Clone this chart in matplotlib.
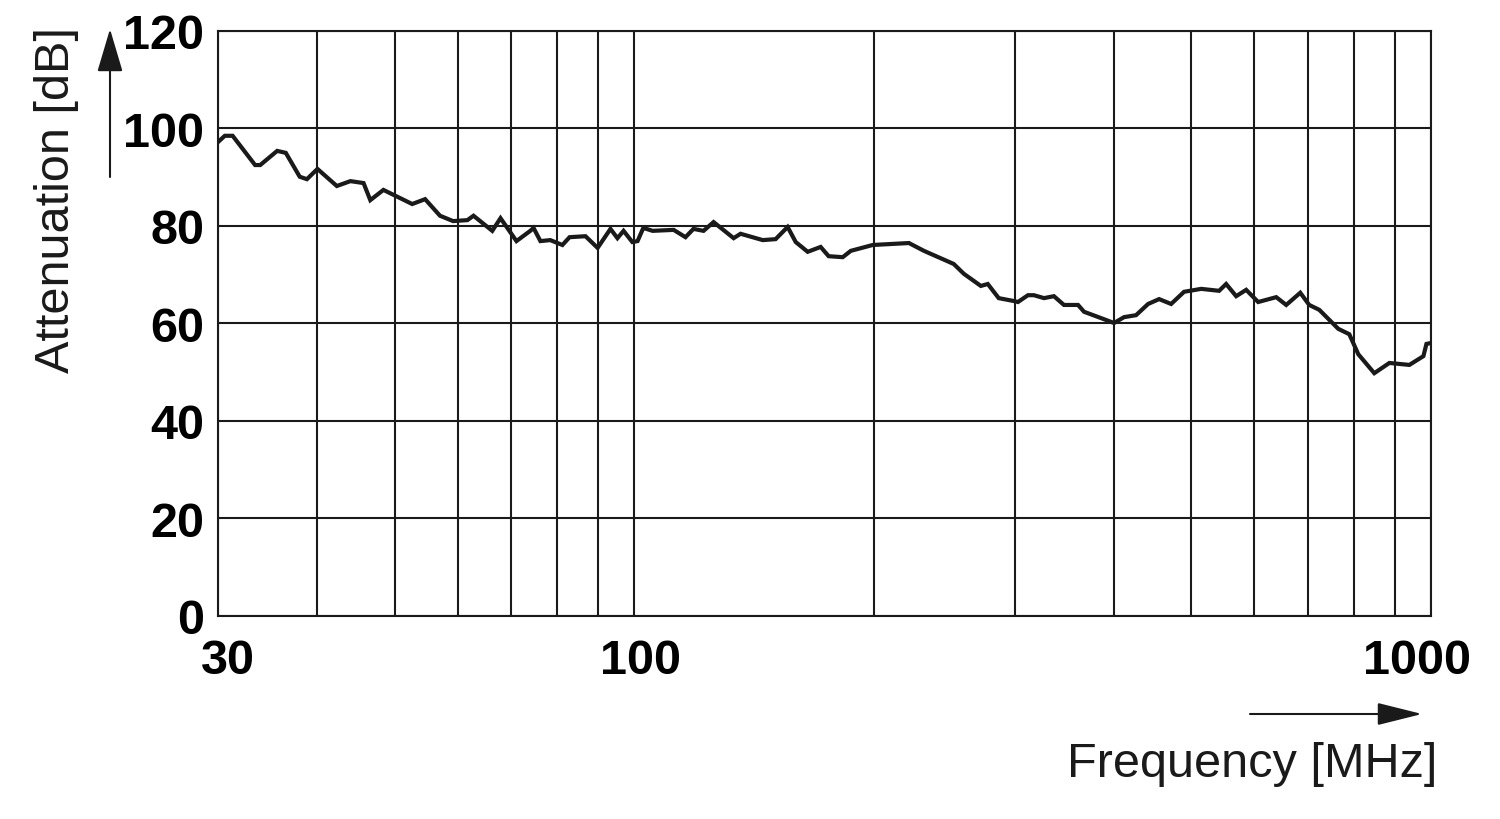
import numpy as np
import matplotlib.pyplot as plt
from matplotlib.ticker import FixedLocator, NullFormatter
from matplotlib.transforms import ScaledTranslation

plt.rcParams['font.family'] = ['Liberation Sans', 'DejaVu Sans']

# curve (frequency in MHz, attenuation in dB)
freq = [30, 30.6, 31.3, 33.4, 33.9, 35.6, 36.5, 38.0, 38.8, 40.0,
        42.3, 44.0, 45.7, 46.6, 48.4, 52.6, 54.6, 57.0, 59.2, 61.7,
        62.8, 66.3, 67.9, 71.1, 74.0, 74.7, 76.2, 78.4, 81.2, 82.9,
        86.8, 89.9, 93.3, 95.2, 96.9, 99.4, 100.9, 102.6, 105.4, 112.0,
        115.9, 118.6, 122.1, 125.7, 133.2, 135.9, 144.9, 150.4, 155.7, 159.4,
        165.0, 171.3, 175.3, 182.6, 186.9, 199.1, 221.1, 230.9, 251.7, 259.1,
        272.2, 277.7, 286.6, 299.5, 303.0, 311.9, 317.3, 326.7, 336.2, 346.1,
        360.5, 366.8, 385.3, 400.0, 411.8, 426.3, 441.4, 455.7, 471.8, 489.8,
        514.6, 542.0, 553.1, 569.4, 586.1, 606.8, 639.3, 658.0, 685.3, 703.3,
        724.0, 764.9, 789.6, 810.4, 848.8, 886.6, 939.4, 978.3, 986.9, 1000]
atten = [97.2, 98.5, 98.5, 92.5, 92.5, 95.4, 95.0, 90.1, 89.6, 91.7,
         88.2, 89.2, 88.8, 85.3, 87.4, 84.5, 85.5, 82.1, 81.0, 81.2,
         82.1, 79.0, 81.6, 76.9, 79.0, 79.6, 76.9, 77.1, 76.1, 77.7,
         77.9, 75.5, 79.4, 77.5, 79.0, 76.7, 76.9, 79.6, 79.0, 79.2,
         77.7, 79.4, 79.0, 80.8, 77.5, 78.4, 77.1, 77.3, 79.8, 76.7,
         74.7, 75.7, 73.8, 73.6, 74.9, 76.1, 76.5, 74.9, 72.2, 70.2,
         67.7, 68.1, 65.2, 64.6, 64.4, 65.8, 65.8, 65.2, 65.6, 63.8,
         63.8, 62.4, 61.1, 60.1, 61.3, 61.7, 64.0, 65.0, 64.0, 66.5,
         67.1, 66.7, 68.1, 65.6, 66.9, 64.4, 65.4, 63.8, 66.3, 63.8,
         62.8, 58.9, 57.8, 53.7, 49.8, 51.9, 51.5, 53.3, 55.8, 56.0]

x_major = [30, 100, 1000]
x_minor = [40, 50, 60, 70, 80, 90, 200, 300, 400, 500, 600, 700, 800, 900]
y_ticks = [0, 20, 40, 60, 80, 100, 120]

fig = plt.figure(figsize=(15, 8.2), dpi=100)
ax = fig.add_axes([0.1453, 0.2476, 0.8087, 0.7134])

ax.plot(freq, atten, color='#1a1a1a', lw=3.0, solid_joinstyle='miter', zorder=3)

ax.set_xscale('log')
ax.set_xlim(30, 1000)
ax.set_ylim(0, 120)
ax.xaxis.set_major_locator(FixedLocator(x_major))
ax.xaxis.set_minor_locator(FixedLocator(x_minor))
ax.xaxis.set_minor_formatter(NullFormatter())
ax.set_xticklabels([str(v) for v in x_major])
ax.set_yticks(y_ticks)

ax.grid(True, which='both', color='#1a1a1a', lw=1.5)
ax.tick_params(which='both', length=0)
ax.tick_params(axis='x', pad=16, labelsize=35)
ax.tick_params(axis='y', pad=10, labelsize=35)
for lab in ax.get_xticklabels() + ax.get_yticklabels():
    lab.set_fontweight('bold')
# nudge x labels the way the original drawing places them
for lab, dx in zip(ax.get_xticklabels(), [10, 6, -14]):
    lab.set_transform(lab.get_transform() + ScaledTranslation(dx / 100, 0, fig.dpi_scale_trans))
for s in ax.spines.values():
    s.set_color('#1a1a1a')
    s.set_linewidth(1.5)

# axis labels with arrows
fig.text(57 / 1500, 1 - 200 / 820, 'Attenuation [dB]', rotation=90,
         ha='center', va='center', fontsize=35, color='#1a1a1a')
fig.text(1437 / 1500, 1 - 765 / 820, 'Frequency [MHz]',
         ha='right', va='center', fontsize=35, color='#1a1a1a')

ax.annotate('', xy=(110 / 1500, 1 - 30 / 820), xytext=(110 / 1500, 1 - 178 / 820),
            xycoords='figure fraction',
            arrowprops=dict(arrowstyle='-|>,head_length=2.7,head_width=0.8',
                            color='#1a1a1a', lw=1.5, shrinkA=0, shrinkB=0))
ax.annotate('', xy=(1422 / 1500, 1 - 715 / 820), xytext=(1250 / 1500, 1 - 715 / 820),
            xycoords='figure fraction',
            arrowprops=dict(arrowstyle='-|>,head_length=2.8,head_width=0.7',
                            color='#1a1a1a', lw=1.5, shrinkA=0, shrinkB=0))

fig.savefig('out.png', dpi=100)
